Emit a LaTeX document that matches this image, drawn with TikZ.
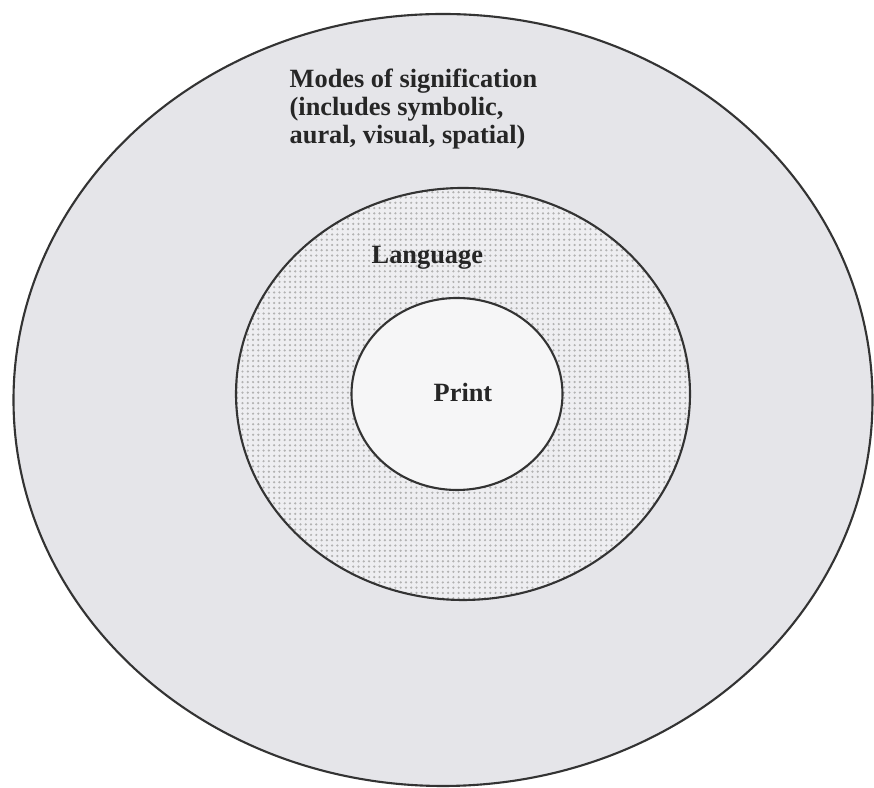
\documentclass[tikz,border=0pt]{standalone}
\usepackage{fontspec}
\setmainfont{Liberation Serif}
\usetikzlibrary{shapes.geometric,patterns.meta}
\definecolor{modesfill}{RGB}{229,229,233}
\definecolor{langfill}{RGB}{238,238,241}
\definecolor{printfill}{RGB}{246,246,247}

\begin{document}
\begin{tikzpicture}[
  ring/.style={ellipse,draw=black!80,line width=0.6pt,inner sep=0pt},
  lbl/.style={font=\fontsize{7.5}{8.0}\selectfont\bfseries,inner sep=0pt,text=black!85}]
  \useasboundingbox[fill=white] (0,0) rectangle (8.74,7.88);

  % 外側の楕円
  \node[ring,fill=modesfill,minimum width=8.59cm,minimum height=7.72cm] (modes) at (4.43,3.88) {};

  % 中間の楕円（点描）
  \node[ring,preaction={fill=langfill},pattern={Dots[distance=1.5pt,radius=0.35pt]},pattern color=black!30,
        minimum width=4.54cm,minimum height=4.12cm] (lang) at (4.63,3.94) {};

  % 内側の楕円
  \node[ring,fill=printfill,minimum width=2.11cm,minimum height=1.92cm] (print) at (4.57,3.94) {};

  % ラベル
  \node[lbl,anchor=north west,align=left] (modestxt) at (2.89,7.2)
    {Modes of signification\\(includes symbolic,\\aural, visual, spatial)};
  \node[lbl,anchor=base west] (langtxt) at (3.71,5.24) {Language};
  \node[lbl,anchor=base west] (printtxt) at (4.33,3.86) {Print};
\end{tikzpicture}
\end{document}
